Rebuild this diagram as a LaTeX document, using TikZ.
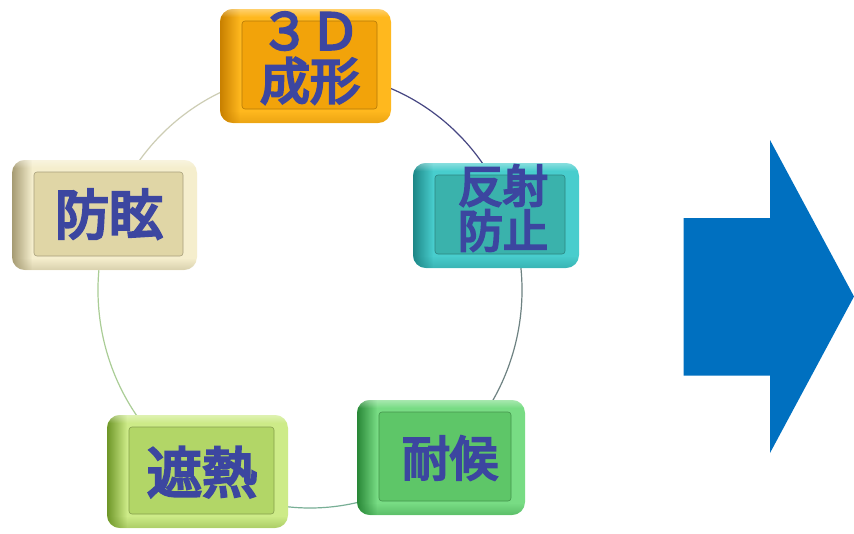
\documentclass[tikz,border=0pt]{standalone}
\usepackage{fontspec}
\newfontfamily\cjk[FakeBold=5]{Noto Sans CJK JP}
\usetikzlibrary{fadings}
\definecolor{txt}{RGB}{60,70,160}
\definecolor{arrowblue}{RGB}{0,112,192}
% box colours: dark side, bevel, face
\definecolor{oD}{RGB}{200,128,0}\definecolor{oL}{RGB}{255,184,30}\definecolor{oF}{RGB}{242,163,10}
\definecolor{tD}{RGB}{30,135,135}\definecolor{tL}{RGB}{72,205,205}\definecolor{tF}{RGB}{58,178,172}
\definecolor{cD}{RGB}{165,155,115}\definecolor{cL}{RGB}{245,238,205}\definecolor{cF}{RGB}{224,214,166}
\definecolor{yD}{RGB}{110,150,40}\definecolor{yL}{RGB}{205,235,136}\definecolor{yF}{RGB}{178,214,103}
\definecolor{gD}{RGB}{40,135,55}\definecolor{gL}{RGB}{120,220,132}\definecolor{gF}{RGB}{94,198,104}
\definecolor{r1}{RGB}{70,70,130}\definecolor{r2}{RGB}{110,130,130}\definecolor{r3}{RGB}{120,175,150}
\definecolor{r4}{RGB}{170,205,150}\definecolor{r5}{RGB}{205,205,180}
\tikzset{
  lab/.style={text=txt, align=center, inner sep=0pt},
  ring/.style={line width=1.2pt},
  facebox/.style={draw=#1!75!black, line width=0.6pt, fill=#1, rounded corners=3pt, inner sep=0pt},
}
\newcommand\labfont[1]{\cjk\fontsize{#1}{#1}\selectfont}
% \bevelbox{name}{l}{t}{r}{b}{dark}{light}{face}
\newcommand\bevelbox[8]{%
  \fill[#7, rounded corners=13pt] (#2,#3) rectangle (#4,#5);
  \begin{scope}
    \clip[rounded corners=13pt] (#2,#3) rectangle (#4,#5);
    \fill[#6, path fading=east] (#2,#3) rectangle ({#2+20},#5);
    \fill[#6, opacity=0.35, path fading=north] (#2,{#5-12}) rectangle (#4,#5);
    \fill[white, opacity=0.35, path fading=south] (#2,#3) rectangle (#4,{#3+8});
  \end{scope}
  \node[facebox=#8, minimum width={(#4)-(#2)-36}, minimum height={(#5)-(#3)-26}]
    (#1) at ({(#2+#4)/2+4},{(#3+#5)/2-1}) {};
}
\begin{document}
\begin{tikzpicture}[x=1pt,y=-1pt]
\useasboundingbox (0,0) rectangle (854,533);
\fill[white] (0,0) rectangle (854,533);
% ring
\def\cx{310}\def\cy{290}
\draw[ring, r1] (\cx,\cy) ++(-90:212 and 218) arc[start angle=-90, end angle=-21, x radius=212, y radius=218];
\draw[ring, r2] (\cx,\cy) ++(-21:212 and 218) arc[start angle=-21, end angle=51, x radius=212, y radius=218];
\draw[ring, r3] (\cx,\cy) ++(51:212 and 218) arc[start angle=51, end angle=123, x radius=212, y radius=218];
\draw[ring, r4] (\cx,\cy) ++(123:212 and 218) arc[start angle=123, end angle=200, x radius=212, y radius=218];
\draw[ring, r5] (\cx,\cy) ++(200:212 and 218) arc[start angle=200, end angle=270, x radius=212, y radius=218];
% boxes
\bevelbox{b1}{220}{9}{391}{123}{oD}{oL}{oF}
\bevelbox{b2}{413}{163}{579}{268}{tD}{tL}{tF}
\bevelbox{b3}{12}{160}{197}{270}{cD}{cL}{cF}
\bevelbox{b4}{107}{415}{288}{528}{yD}{yL}{yF}
\bevelbox{b5}{357}{400}{525}{515}{gD}{gL}{gF}
% labels
\node[lab, font=\labfont{50}\linespread{1.02}] (t1) at (310,58) {３Ｄ\\成形};
\node[lab, font=\labfont{45}\linespread{1.07}] (t2) at (503,208) {反射\\防止};
\node[lab, font=\labfont{54}] (t3) at (109,214) {防眩};
\node[lab, font=\labfont{55}] (t4) at (202,472) {遮熱};
\node[lab, font=\labfont{48}] (t5) at (450,458) {耐候};
% arrow
\fill[arrowblue] (683.5,218) -- (770,218) -- (770,140) -- (854,296.5) -- (770,453) -- (770,375.5) -- (683.5,375.5) -- cycle;
\end{tikzpicture}
\end{document}
